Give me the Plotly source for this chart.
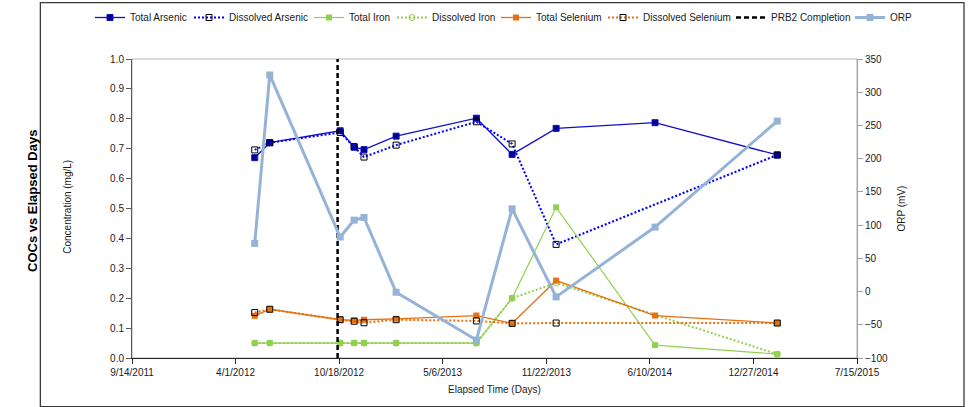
import plotly.graph_objects as go

# ---------------- data ----------------
sample_dates = ["2012-05-08", "2012-06-06", "2012-10-20", "2012-11-16", "2012-12-05",
                "2013-02-05", "2013-07-10", "2013-09-17", "2013-12-11", "2014-06-20",
                "2015-02-11"]
total_arsenic = [0.670, 0.720, 0.760, 0.705, 0.697, 0.742, 0.802, 0.681, 0.768, 0.787, 0.679]
dissolved_arsenic = [0.696, 0.720, 0.754, 0.707, 0.672, 0.712, 0.790, 0.716, 0.380, None, 0.679]
total_iron = [0.05, 0.05, 0.05, 0.05, 0.05, 0.05, 0.05, 0.200, 0.504, 0.043, 0.013]
dissolved_iron = [0.05, 0.05, 0.05, 0.05, 0.05, 0.05, 0.05, 0.200, 0.251, None, 0.013]
total_selenium = [0.141, 0.163, 0.128, 0.126, 0.128, 0.131, 0.142, 0.116, 0.259, 0.142, 0.117]
dissolved_selenium = [0.152, 0.163, 0.128, 0.123, 0.118, 0.128, 0.124, 0.116, 0.117, None, 0.117]
orp = [72.5, 326, 82, 107.5, 111.5, -1, -73, 124.5, -8, 97, 256.5]

prb2_dates = ["2012-10-15", "2012-10-15"]
prb2_y = [0.0, 1.0]

x_tick_vals = ["2011-09-14", "2012-04-01", "2012-10-18", "2013-05-06",
               "2013-11-22", "2014-06-10", "2014-12-27", "2015-07-15"]
x_tick_text = ["9/14/2011", "4/1/2012", "10/18/2012", "5/6/2013",
               "11/22/2013", "6/10/2014", "12/27/2014", "7/15/2015"]

# ---------------- styles ----------------
BLUE = "#1010C8"
NAVY = "#00008B"
GREEN = "#92D050"
ORANGE = "#E8700F"
ORP_C = "#95B3D7"
FONT = "Liberation Sans, Arial, sans-serif"
FS = 10

fig = go.Figure()

fig.add_trace(go.Scatter(x=sample_dates, y=total_arsenic, name="Total Arsenic",
                         mode="lines+markers", legend="legend", legendwidth=54,
                         line=dict(color=BLUE, width=1.3),
                         marker=dict(symbol="square", size=6, color=NAVY,
                                     line=dict(color=BLUE, width=1))))
fig.add_trace(go.Scatter(x=sample_dates, y=dissolved_arsenic, name="Dissolved Arsenic",
                         mode="lines+markers", connectgaps=True,
                         legend="legend", legendwidth=75,
                         line=dict(color="#0000FF", width=2, dash="2px,2px"),
                         marker=dict(symbol="square-open", size=6, color="#000000",
                                     line=dict(width=1))))
fig.add_trace(go.Scatter(x=sample_dates, y=total_iron, name="Total Iron",
                         mode="lines+markers", legend="legend", legendwidth=38,
                         line=dict(color=GREEN, width=1.2),
                         marker=dict(symbol="square", size=6, color=GREEN)))
fig.add_trace(go.Scatter(x=sample_dates, y=dissolved_iron, name="Dissolved Iron",
                         mode="lines+markers", connectgaps=True,
                         legend="legend", legendwidth=72,
                         line=dict(color=GREEN, width=2, dash="2px,2px"),
                         marker=dict(symbol="circle-open", size=6, color=GREEN,
                                     line=dict(width=1))))
fig.add_trace(go.Scatter(x=sample_dates, y=total_selenium, name="Total Selenium",
                         mode="lines+markers", legend="legend2", legendwidth=62,
                         line=dict(color=ORANGE, width=1.3),
                         marker=dict(symbol="square", size=6, color=ORANGE)))
fig.add_trace(go.Scatter(x=sample_dates, y=dissolved_selenium, name="Dissolved Selenium",
                         mode="lines+markers", connectgaps=True,
                         legend="legend2", legendwidth=83,
                         line=dict(color=ORANGE, width=2, dash="2px,2px"),
                         marker=dict(symbol="square-open", size=6, color="#000000",
                                     line=dict(width=1))))
fig.add_trace(go.Scatter(x=prb2_dates, y=prb2_y, name="PRB2 Completion",
                         mode="lines", legend="legend2", legendwidth=74,
                         line=dict(color="#000000", width=2.5, dash="5px,3px")))
fig.add_trace(go.Scatter(x=sample_dates, y=orp, name="ORP", yaxis="y2",
                         mode="lines+markers", legend="legend2", legendwidth=35,
                         line=dict(color=ORP_C, width=3),
                         marker=dict(symbol="square", size=7, color=ORP_C)))

axis_font = dict(family=FONT, size=FS, color="#1a1a1a")
legend_common = dict(orientation="h", xref="container", yref="container",
                     xanchor="left", y=1 - 3 / 407, yanchor="top",
                     font=dict(family=FONT, size=FS, color="#1a1a1a"),
                     bgcolor="rgba(0,0,0,0)", itemwidth=30, tracegroupgap=0)

fig.update_layout(
    width=968, height=407,
    margin=dict(l=132, r=111, t=59, b=49, pad=0, autoexpand=False),
    paper_bgcolor="white", plot_bgcolor="white",
    font=dict(family=FONT, size=FS, color="#1a1a1a"),
    showlegend=True,
    legend=dict(x=90 / 968, **legend_common),
    legend2=dict(x=496 / 968, **legend_common),
    xaxis=dict(type="date", range=["2011-09-14", "2015-07-15"],
               tickvals=x_tick_vals, ticktext=x_tick_text,
               showgrid=False, zeroline=False,
               showline=True, linecolor="#262626", linewidth=1,
               ticks="outside", ticklen=5, tickcolor="#262626",
               tickfont=axis_font),
    yaxis=dict(range=[0, 1], dtick=0.1, tickformat=".1f",
               showgrid=False, zeroline=False,
               showline=True, linecolor="#595959", linewidth=1,
               ticks="outside", ticklen=5, tickcolor="#595959",
               tickfont=axis_font),
    yaxis2=dict(range=[-100, 350], dtick=50, overlaying="y", side="right",
                showgrid=False, zeroline=False,
                showline=True, linecolor="#A0A0A0", linewidth=1,
                ticks="outside", ticklen=5, tickcolor="#A0A0A0",
                tickfont=axis_font),
    shapes=[
        dict(type="rect", xref="paper", yref="paper", x0=0, x1=1, y0=0, y1=1,
             line=dict(color="#B0B0B0", width=1), layer="below"),
        dict(type="rect", xref="paper", yref="paper",
             x0=-0.1264, x1=1.1476, y0=-0.1629, y1=1.1884,
             line=dict(color="#3a3a3a", width=1.3)),
    ],
    annotations=[
        dict(text="<b>COCs vs Elapsed Days</b>", xref="paper", yref="paper",
             x=-0.138, y=0.525, textangle=-90, showarrow=False,
             xanchor="center", yanchor="middle",
             font=dict(family=FONT, size=13, color="#000000")),
        dict(text="Concentration (mg/L)", xref="paper", yref="paper",
             x=-0.0900, y=0.505, textangle=-90, showarrow=False,
             xanchor="center", yanchor="middle",
             font=dict(family=FONT, size=FS, color="#1a1a1a")),
        dict(text="ORP (mV)", xref="paper", yref="paper",
             x=1.0607, y=0.5, textangle=-90, showarrow=False,
             xanchor="center", yanchor="middle",
             font=dict(family=FONT, size=FS, color="#1a1a1a")),
        dict(text="Elapsed Time (Days)", xref="paper", yref="paper",
             x=0.5, y=-0.107, showarrow=False,
             xanchor="center", yanchor="middle",
             font=dict(family=FONT, size=FS, color="#1a1a1a")),
    ],
)

fig.write_html("out.html", config={"displayModeBar": False},
               post_script="document.body.style.margin='0px';")
